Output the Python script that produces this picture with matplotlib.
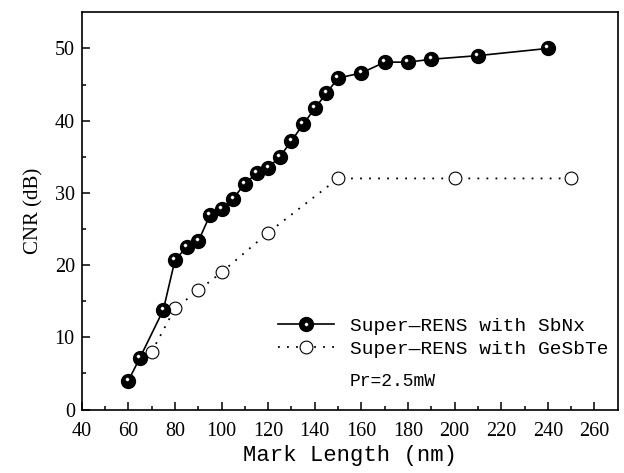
import matplotlib
matplotlib.use('Agg')
import matplotlib.pyplot as plt
import matplotlib.transforms as mtransforms
from matplotlib.lines import Line2D
from matplotlib.legend_handler import HandlerTuple

# SbNx data
sbnx_x = [60, 65, 75, 80, 85, 90, 95, 100, 105, 110, 115, 120, 125, 130,
          135, 140, 145, 150, 160, 170, 180, 190, 210, 240]
sbnx_y = [4.0, 7.2, 13.8, 20.7, 22.5, 23.3, 26.9, 27.8, 29.2, 31.3, 32.7,
          33.5, 35.0, 37.2, 39.5, 41.7, 43.8, 45.9, 46.6, 48.1, 48.1, 48.5,
          49.0, 50.0]

# GeSbTe data
gst_x = [70, 80, 90, 100, 120, 150, 200, 250]
gst_y = [8.0, 14.0, 16.5, 19.0, 24.5, 32.0, 32.0, 32.0]

xticks = list(range(40, 261, 20))
yticks = list(range(0, 51, 10))

serif = 'Liberation Serif'
mono = 'Liberation Mono'

fig = plt.figure(figsize=(6.24, 4.73), dpi=100)
ax = fig.add_axes([0.131, 0.134, 0.859, 0.84])

ax.plot(gst_x, gst_y, color='black', lw=1.3, linestyle=(0, (1, 4)),
        marker='o', markersize=9.2, markerfacecolor='white',
        markeredgecolor='black', markeredgewidth=0.8, zorder=2)

ax.plot(sbnx_x, sbnx_y, color='black', lw=1.2, linestyle='-',
        marker='o', markersize=10, markerfacecolor='black',
        markeredgecolor='black', zorder=3)

# white highlight on the spheres, a bit up and left of centre
hl = mtransforms.offset_copy(ax.transData, fig=fig, x=-1.2, y=1.4, units='points')
ax.plot(sbnx_x, sbnx_y, linestyle='none', marker='o', markersize=2.3,
        markerfacecolor='white', markeredgecolor='#cccccc',
        markeredgewidth=0.3, transform=hl, zorder=4)

ax.set_xlim(40, 270)
ax.set_ylim(0, 55)
ax.set_xticks(xticks)
ax.set_yticks(yticks)
ax.set_xticks(range(50, 270, 20), minor=True)
ax.set_yticks(range(5, 55, 10), minor=True)
ax.tick_params(which='both', direction='in', top=False, right=False,
               width=1.1, labelsize=14.5)
ax.tick_params(which='major', length=6)
ax.tick_params(which='minor', length=3)
ax.tick_params(axis='x', pad=9)
ax.tick_params(axis='y', pad=5)
for lab in ax.get_xticklabels() + ax.get_yticklabels():
    lab.set_family(serif)

for sp in ax.spines.values():
    sp.set_linewidth(1.2)

ax.set_xlabel('Mark Length (nm)', family=mono, fontsize=16, labelpad=3)
ax.set_ylabel('CNR (dB)', family=serif, fontsize=15, labelpad=8)

h1 = (Line2D([0], [0], color='black', lw=1.2, marker='o', markersize=10,
             markerfacecolor='black', markeredgecolor='black'),
      Line2D([0], [0], linestyle='none', marker='o', markersize=2.3,
             markerfacecolor='white', markeredgecolor='#cccccc',
             markeredgewidth=0.3))
h2 = Line2D([0], [0], color='black', lw=1.3, linestyle=(0, (1, 4)),
            marker='o', markersize=9.2, markerfacecolor='white',
            markeredgecolor='black', markeredgewidth=0.8)
ax.legend([h1, h2], ['Super\u2014RENS with SbNx', 'Super\u2014RENS with GeSbTe'],
          handler_map={tuple: HandlerTuple(ndivide=1, pad=0)},
          loc='upper left', bbox_to_anchor=(0.366, 0.232), frameon=False,
          prop={'family': [mono, 'DejaVu Sans Mono'], 'size': 14},
          handlelength=2.9, handletextpad=0.8, labelspacing=0.25,
          borderaxespad=0, borderpad=0)
ax.text(0.5, 0.07, 'Pr=2.5mW', transform=ax.transAxes, family=mono,
        fontsize=13, va='center', ha='left')

fig.savefig('out.png', dpi=100)
